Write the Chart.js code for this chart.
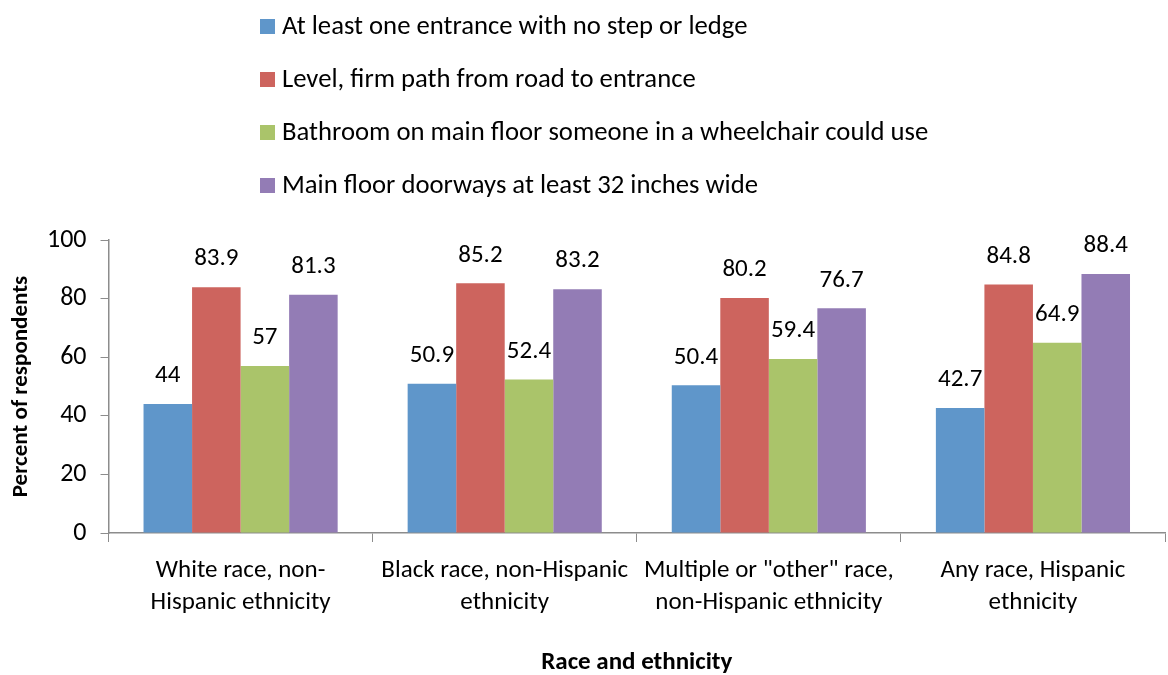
<!DOCTYPE html>
<html>
<head>
<meta charset="utf-8">
<script src="https://cdn.jsdelivr.net/npm/chart.js@4/dist/chart.umd.min.js"></script>
<style>
  body { margin: 0; background: #fff; }
  .wrap { position: relative; width: 1168px; height: 675px; }
  .legend { position: absolute; left: 260px; top: 8px; font-family: Carlito, Lato, sans-serif; font-size: 26.7px; color: #000; }
  .legend div { height: 53px; line-height: 34px; white-space: nowrap; }
  .legend span { display: inline-block; width: 15px; height: 15px; margin-right: 7px; vertical-align: 0px; }
</style>
</head>
<body>
<div class="wrap">
  <canvas id="myChart" width="1168" height="675"></canvas>
  <div class="legend" id="legend"></div>
</div>
<script>
const categories = [
  ['White race, non-', 'Hispanic ethnicity'],
  ['Black race, non-Hispanic', 'ethnicity'],
  ['Multiple or "other" race,', 'non-Hispanic ethnicity'],
  ['Any race, Hispanic', 'ethnicity']
];
const seriesNames = [
  'At least one entrance with no step or ledge',
  'Level, firm path from road to entrance',
  'Bathroom on main floor someone in a wheelchair could use',
  'Main floor doorways at least 32 inches wide'
];
const noStep = [44, 50.9, 50.4, 42.7];
const levelPath = [83.9, 85.2, 80.2, 84.8];
const bathroom = [57, 52.4, 59.4, 64.9];
const doorways = [81.3, 83.2, 76.7, 88.4];
const yTicks = [0, 20, 40, 60, 80, 100];

const colors = ['#5F96CA', '#CD645E', '#AAC46A', '#937CB5'];
const font = 'Carlito, Lato, sans-serif';

// legend as html, one item per row
const legendEl = document.getElementById('legend');
seriesNames.forEach((name, i) => {
  legendEl.innerHTML += '<div><span style="background:' + colors[i] + '"></span>' + name + '</div>';
});

// value labels above bars
const barLabels = {
  id: 'barLabels',
  afterDatasetsDraw(chart) {
    const c = chart.ctx;
    c.save();
    c.font = '25px ' + font;
    c.fillStyle = '#000';
    c.textAlign = 'center';
    c.textBaseline = 'middle';
    chart.data.datasets.forEach((ds, i) => {
      chart.getDatasetMeta(i).data.forEach((bar, j) => {
        c.fillText(String(ds.data[j]), bar.x, bar.y - 28);
      });
    });
    c.restore();
  }
};

const ctx = document.getElementById('myChart');

new Chart(ctx, {
  type: 'bar',
  data: {
    labels: categories,
    datasets: [noStep, levelPath, bathroom, doorways].map((d, i) => ({
      label: seriesNames[i],
      data: d,
      backgroundColor: colors[i],
      borderWidth: 0,
      barPercentage: 1,
      categoryPercentage: 0.735
    }))
  },
  options: {
    responsive: false,
    animation: false,
    layout: { padding: { top: 240, right: 3, left: 0, bottom: 0 } },
    scales: {
      x: {
        grid: {
          display: true,
          drawOnChartArea: false,
          offset: true,
          tickLength: 9,
          color: '#8C8C8C'
        },
        border: { color: '#8C8C8C', width: 1.5 },
        ticks: {
          color: '#000',
          maxRotation: 0,
          padding: 12,
          font: { family: font, size: 25, lineHeight: 1.3 }
        },
        title: {
          display: true,
          text: 'Race and ethnicity',
          color: '#000',
          padding: { top: 19, bottom: 0 },
          font: { family: font, size: 25, weight: 'bold', lineHeight: 1.0 }
        }
      },
      y: {
        min: 0,
        max: 100,
        afterBuildTicks: (axis) => { axis.ticks = yTicks.map(v => ({ value: v })); },
        grid: {
          display: true,
          drawOnChartArea: false,
          tickLength: 8,
          color: '#8C8C8C'
        },
        border: { color: '#8C8C8C', width: 1.5 },
        ticks: {
          color: '#000',
          padding: 14,
          font: { family: font, size: 26 }
        },
        title: {
          display: true,
          text: 'Percent of respondents',
          color: '#000',
          padding: { top: 10, bottom: 0 },
          font: { family: font, size: 23, weight: 'bold', lineHeight: 1.0 }
        }
      }
    },
    plugins: {
      legend: { display: false },
      tooltip: { enabled: false }
    }
  },
  plugins: [barLabels]
});
</script>
</body>
</html>
